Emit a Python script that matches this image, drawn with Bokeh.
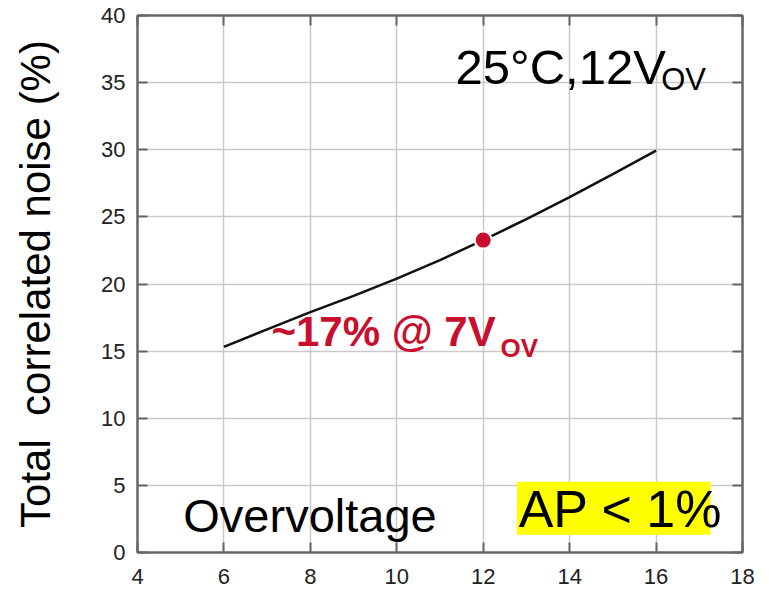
from bokeh.plotting import figure
from bokeh.models import Label, BoxAnnotation, LinearAxis, FixedTicker
from bokeh.embed import file_html
from bokeh.resources import INLINE

# Total correlated noise vs overvoltage
overvoltage = [6, 7, 8, 9, 10, 11, 12, 13, 14, 15, 16]
noise_pct = [15.32, 16.62, 17.9, 19.12, 20.4, 21.78, 23.27, 24.84, 26.47, 28.18, 29.93]

# highlighted operating point
op_v = [12]
op_noise = [23.27]

x_ticks = [4, 6, 8, 10, 12, 14, 16, 18]
y_ticks = [0, 5, 10, 15, 20, 25, 30, 35, 40]

RED = "#C8102E"
FONT = "Liberation Sans"
AXIS_COLOR = "#666666"
GRID_COLOR = "#c9c9c9"
PX_PER_UNIT_Y = 13.4  # frame height / y span, used to lift text baselines

p = figure(width=769, height=594, output_backend="svg", toolbar_location=None,
           x_range=(4, 18), y_range=(0, 40),
           min_border_left=137, min_border_right=27,
           min_border_top=15, min_border_bottom=42)
p.background_fill_color = "white"
p.border_fill_color = "white"
p.outline_line_color = AXIS_COLOR
p.outline_line_width = 2

def style_axis(ax, ticks):
    ax.ticker = FixedTicker(ticks=ticks)
    ax.major_tick_in = 10
    ax.major_tick_out = 0
    ax.minor_tick_in = 0
    ax.minor_tick_out = 0
    ax.major_tick_line_color = AXIS_COLOR
    ax.major_tick_line_width = 2
    ax.axis_line_color = AXIS_COLOR
    ax.axis_line_width = 2
    ax.major_label_text_font = FONT
    ax.major_label_text_font_size = "22px"
    ax.major_label_text_color = "#222222"

style_axis(p.xaxis[0], x_ticks)
style_axis(p.yaxis[0], y_ticks)

p.xaxis.major_label_standoff = 16
p.yaxis.major_label_standoff = 12

p.yaxis.axis_label = "Total\u00a0 correlated noise (%)"
p.yaxis.axis_label_text_font = FONT
p.yaxis.axis_label_text_font_size = "42px"
p.yaxis.axis_label_text_font_style = "normal"
p.yaxis.axis_label_text_color = "black"
p.yaxis.axis_label_standoff = 39

# mirrored ticks on the top and right edges of the frame
top_axis = LinearAxis()
right_axis = LinearAxis()
style_axis(top_axis, x_ticks)
style_axis(right_axis, y_ticks)
for ax, ticks in ((top_axis, x_ticks), (right_axis, y_ticks)):
    ax.major_label_overrides = {t: "" for t in ticks}
    ax.major_label_standoff = 0
p.add_layout(top_axis, "above")
p.add_layout(right_axis, "right")

p.xgrid.ticker = FixedTicker(ticks=x_ticks)
p.ygrid.ticker = FixedTicker(ticks=y_ticks)
p.xgrid.grid_line_color = GRID_COLOR
p.ygrid.grid_line_color = GRID_COLOR
p.xgrid.grid_line_width = 1.5
p.ygrid.grid_line_width = 1.5

# yellow highlight behind the afterpulsing note
p.add_layout(BoxAnnotation(left=12.78, right=17.26, bottom=1.32, top=5.27,
                           fill_color="#FFFF00", fill_alpha=1.0, line_color=None,
                           level="underlay"))

p.line(overvoltage, noise_pct, line_color="#111111", line_width=2.5)
p.scatter(op_v, op_noise, size=17, fill_color=RED, line_color="white", line_width=2)

def label(x, y, text, size, color="black", style="normal"):
    # lift by part of the font size so the glyph baseline sits on y
    lift = 0.37 * size / PX_PER_UNIT_Y
    p.add_layout(Label(x=x, y=y + lift, text=text, text_font=FONT,
                       text_font_size=f"{size}px", text_color=color,
                       text_font_style=style, text_baseline="alphabetic",
                       text_align="left"))

label(11.36, 34.8, "25°C,12V", 49)
label(16.12, 34.4, "OV", 31)

label(7.1, 15.3, "~17% @ 7V", 42, RED, "bold")
label(12.4, 14.55, "OV", 26, RED, "bold")

label(5.06, 1.49, "Overvoltage", 47)
label(12.82, 1.84, "AP < 1%", 52)

open("out.html", "w").write(file_html(p, INLINE))
